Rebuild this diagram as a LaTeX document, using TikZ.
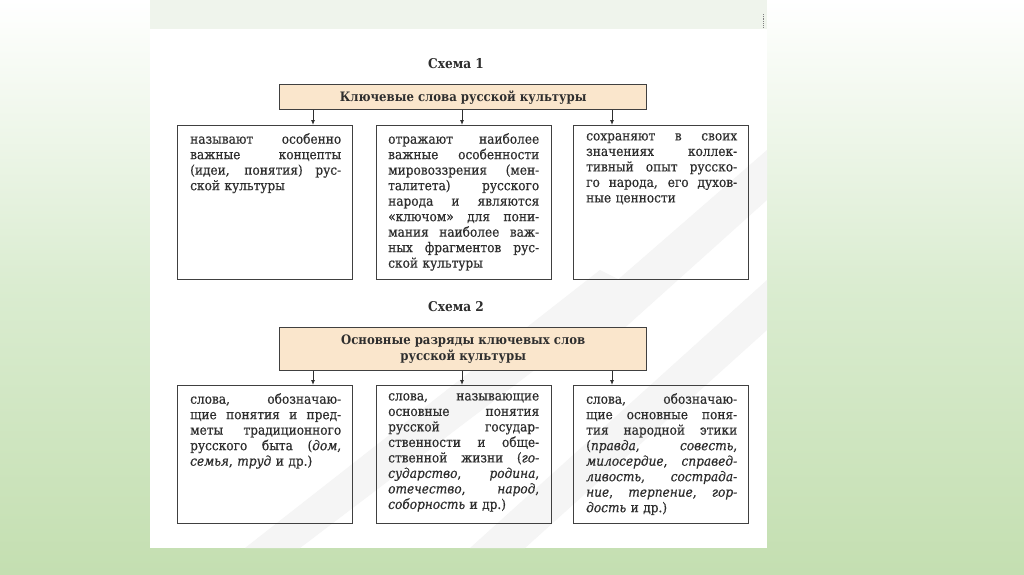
\documentclass[tikz,border=0pt]{standalone}
\usepackage{fontspec}
\setmainfont{DejaVu Serif}
\newfontfamily\bodyfont[FakeBold=0.5]{DejaVu Serif Condensed}
\newfontfamily\headfont{DejaVu Serif Condensed}
\usetikzlibrary{arrows.meta}
\definecolor{ink}{HTML}{2E2E2E}
\definecolor{frame}{HTML}{404040}
\definecolor{peach}{HTML}{FAE6CC}
\definecolor{gtop}{HTML}{FFFFFF}
\definecolor{gmid}{HTML}{DAECD0}
\definecolor{gbot}{HTML}{C4DFB1}
\definecolor{strip}{HTML}{EFF4EC}
\definecolor{wm}{HTML}{F5F5F5}
\newcommand\JL[1]{\makebox[151pt][s]{\spaceskip=.3333em plus 1fil\relax #1}\\}
\tikzset{
  cell/.style={draw=frame, line width=1.4pt, anchor=north west, inner sep=0pt, minimum width=175pt},
  headbox/.style={draw=frame, line width=1.4pt, fill=peach, anchor=north west, inner sep=0pt, minimum width=367pt, font=\headfont\bfseries\fontsize{13}{16}\selectfont, text=ink, align=center},
  schema/.style={font=\headfont\bfseries\fontsize{13.5}{15}\selectfont, text=ink},
  body/.style={anchor=north west, inner sep=0pt, text width=151pt, align=left, font=\bodyfont\fontsize{13.5}{15.5}\selectfont, text=ink},
  arr/.style={draw=ink, line width=0.9pt, -{Latex[length=5pt,width=4pt]}}
}
\begin{document}
\begin{tikzpicture}[x=1pt,y=-1pt]
\useasboundingbox (0,0) rectangle (1024,574);
% background
\shade[top color=gtop, bottom color=gbot, middle color=gmid] (0,0) rectangle (1024,574);
\fill[strip] (150,0) rectangle (767,29);
\fill[white] (150,29) rectangle (767,548);
\draw[gray, densely dotted, line width=0.8pt] (763,14) -- (763,27);
% faint watermark
\begin{scope}
\clip (150,29) rectangle (767,548);
\fill[wm] (245,548) -- (300,548) -- (640,290) -- (600,270) -- cycle;
\fill[wm] (470,548) -- (525,548) -- (767,330) -- (767,280) -- cycle;
\fill[wm] (560,330) -- (600,350) -- (767,200) -- (767,150) -- cycle;
\end{scope}
% Schema 1
\node[schema] (t1) at (456,64) {Схема 1};
\node[headbox, minimum height=25pt] (k1) at (279,84) {Ключевые слова русской культуры};
\node[cell, minimum height=154pt] (a1) at (177,125) {};
\node[cell, minimum height=154pt] (b1) at (376,125) {};
\node[cell, minimum height=154pt] (c1) at (573,125) {};
\coordinate (x1) at (313,0);
\coordinate (x2) at (462,0);
\coordinate (x3) at (612,0);
\draw[arr] (k1.south -| x1) -- (a1.north -| x1);
\draw[arr] (k1.south -| x2) -- (b1.north -| x2);
\draw[arr] (k1.south -| x3) -- (c1.north -| x3);
\node[body] (ta1) at (190,133) {\JL{называют особенно}\JL{важные концепты}\JL{(идеи, понятия) рус-}ской культуры};
\node[body] (tb1) at (388,133) {\JL{отражают наиболее}\JL{важные особенности}\JL{мировоззрения (мен-}\JL{талитета) русского}\JL{народа и являются}\JL{«ключом» для пони-}\JL{мания наиболее важ-}\JL{ных фрагментов рус-}ской культуры};
\node[body] (tc1) at (586,133) {\JL{сохраняют в своих}\JL{значениях коллек-}\JL{тивный опыт русско-}\JL{го народа, его духов-}ные ценности};
% Schema 2
\node[schema] (t2) at (456,307) {Схема 2};
\node[headbox, minimum height=43pt] (k2) at (279,327) {Основные разряды ключевых слов\\русской культуры};
\node[cell, minimum height=138pt] (a2) at (177,385) {};
\node[cell, minimum height=138pt] (b2) at (376,385) {};
\node[cell, minimum height=138pt] (c2) at (573,385) {};
\draw[arr] (k2.south -| x1) -- (a2.north -| x1);
\draw[arr] (k2.south -| x2) -- (b2.north -| x2);
\draw[arr] (k2.south -| x3) -- (c2.north -| x3);
\node[body] (ta2) at (190,393) {\JL{слова, обозначаю-}\JL{щие понятия и пред-}\JL{меты традиционного}\JL{русского быта (\textit{дом},}\textit{семья}, \textit{труд} и др.)};
\node[body] (tb2) at (388,393) {\JL{слова, называющие}\JL{основные понятия}\JL{русской государ-}\JL{ственности и обще-}\JL{ственной жизни (\textit{го-}}\JL{\textit{сударство}, \textit{родина},}\JL{\textit{отечество}, \textit{народ},}\textit{соборность} и др.)};
\node[body] (tc2) at (586,393) {\JL{слова, обозначаю-}\JL{щие основные поня-}\JL{тия народной этики}\JL{(\textit{правда}, \textit{совесть},}\JL{\textit{милосердие}, \textit{справед-}}\JL{\textit{ливость}, \textit{сострада-}}\JL{\textit{ние}, \textit{терпение}, \textit{гор-}}\textit{дость} и др.)};
\end{tikzpicture}
\end{document}
